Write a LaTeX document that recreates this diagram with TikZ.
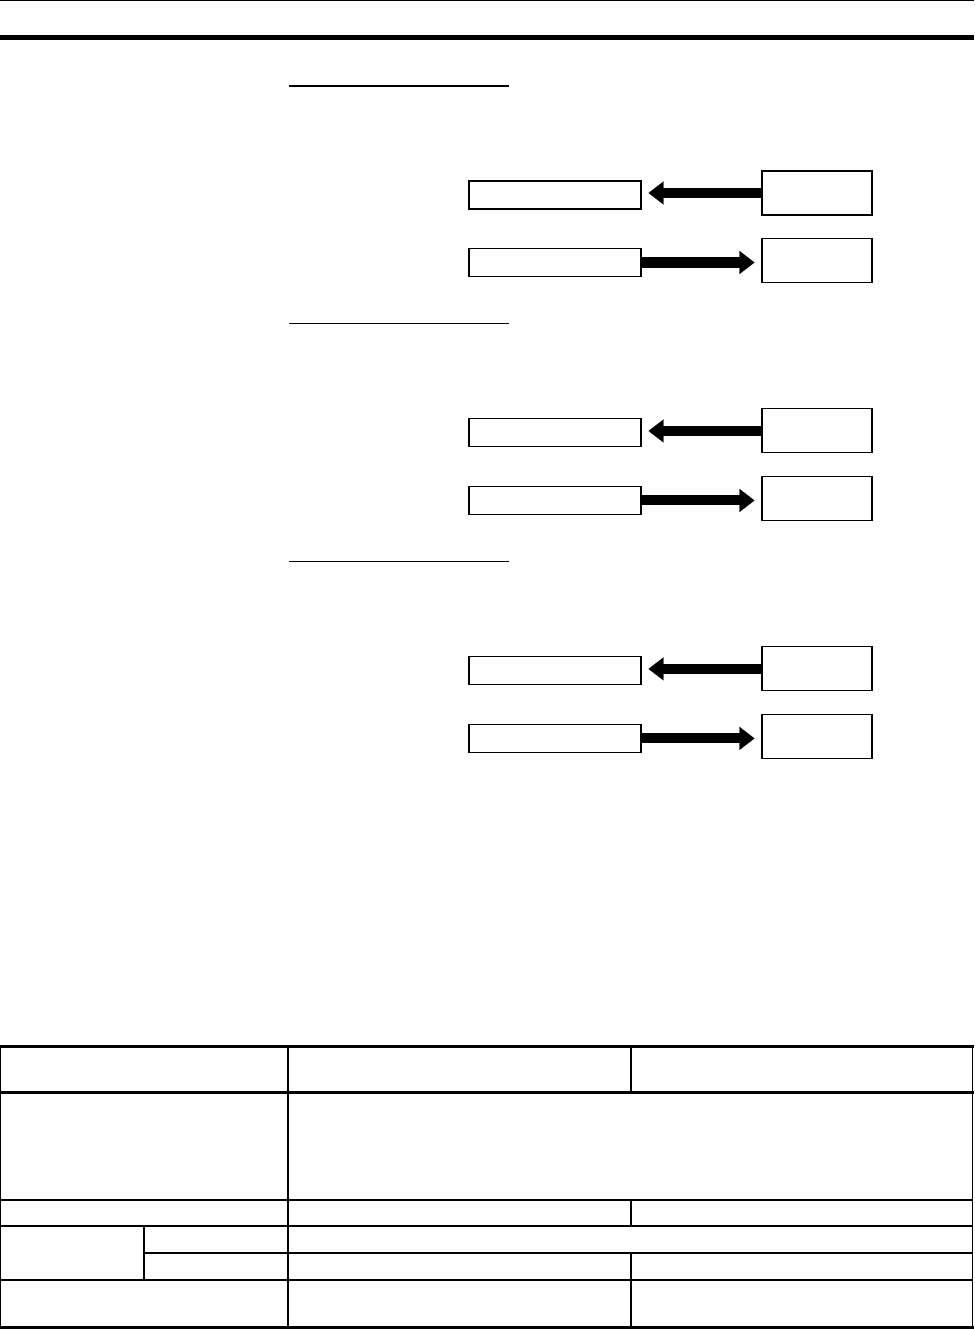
\documentclass[tikz,border=0pt]{standalone}
\usetikzlibrary{arrows.meta,positioning}
\tikzset{
    leftbox/.style={draw=black,line width=0.6pt,minimum width=3.44cm,minimum height=0.56cm,inner sep=0pt},
    rightbox/.style={draw=black,line width=0.6pt,minimum width=2.2cm,minimum height=0.88cm,inner sep=0pt},
    bigarrow/.style={line width=5.7pt,-{Triangle[length=0.3cm,width=0.46cm,line width=0.1pt]},shorten >=0.14cm},
    toprule/.style={line width=2.8pt},
    thinrule/.style={line width=0.6pt},
    thickrule/.style={line width=1.7pt}
}
\begin{document}
\begin{tikzpicture}[x=0.02cm,y=-0.02cm]
  \useasboundingbox (0,0) rectangle (974,1329);

  % page head
  \draw[thinrule] (0,0.8) -- (974,0.8);
  \draw[toprule]  (0,37.5) -- (974,37.5);

  % three send/receive groups
  \foreach \g in {0,1,2}{
    \begin{scope}[yshift=-\g*4.76cm]
      \draw[thinrule] (289,86) -- (509,86);
      \node[leftbox]  (la\g) at (555,195)   {};
      \node[leftbox]  (lb\g) at (555,262.5) {};
      \node[rightbox] (ra\g) at (817,193)   {};
      \node[rightbox] (rb\g) at (817,260.5) {};
      \draw[bigarrow] (ra\g.west) -- (ra\g.west -| la\g.east);
      \draw[bigarrow] (lb\g.east) -- (lb\g.east -| rb\g.west);
    \end{scope}
  }

  % table rules
  \draw[thickrule] (0,1046) -- (974,1046);
  \draw[thickrule] (0,1092) -- (974,1092);
  \draw[thickrule] (0,1327) -- (974,1327);
  \draw[thinrule] (0,1200) -- (972.5,1200);
  \draw[thinrule] (0,1226) -- (972.5,1226);
  \draw[thinrule] (144,1253) -- (972.5,1253);
  \draw[thinrule] (0,1280) -- (972.5,1280);

  % table columns
  \draw[thinrule] (0.8,1046) -- (0.8,1327);
  \draw[thinrule] (972.5,1046) -- (972.5,1327);
  \draw[thinrule] (288,1046) -- (288,1327);
  \draw[thinrule] (144,1226) -- (144,1280);
  \foreach \ya/\yb in {1046/1092,1200/1226,1253/1327}{
    \draw[thinrule] (631,\ya) -- (631,\yb);
  }
\end{tikzpicture}
\end{document}
